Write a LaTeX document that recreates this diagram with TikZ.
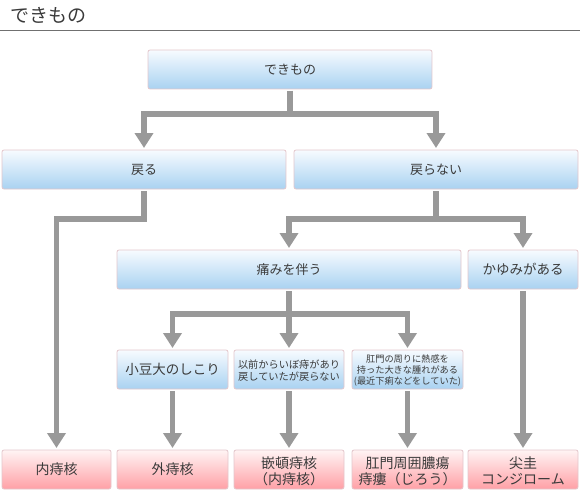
\documentclass[tikz,border=0pt]{standalone}
\usepackage{fontspec}
\setmainfont{Noto Sans CJK JP}
\usetikzlibrary{arrows.meta,calc}
\definecolor{bluetop}{HTML}{F7FBFF}
\definecolor{bluebot}{HTML}{A9D2F1}
\definecolor{pinktop}{HTML}{FFF4F4}
\definecolor{pinkbot}{HTML}{FFA0A6}
\definecolor{boxline}{HTML}{E3C6CB}
\definecolor{conncol}{HTML}{999999}
\definecolor{txt}{HTML}{3A3A3A}
\definecolor{rulecol}{HTML}{707070}
\begin{document}
\begin{tikzpicture}[x=1pt,y=-1pt,
 box/.style={draw=boxline, line width=0.8pt, rounded corners=2pt, inner sep=0pt, outer sep=0pt,
   text=txt, align=center, anchor=north west, minimum height=39pt, text height=1.15em},
 bluebox/.style={box, top color=bluetop, bottom color=bluebot},
 pinkbox/.style={box, top color=pinktop, bottom color=pinkbot},
 conn/.style={draw=conncol, line width=5.5pt, -{Triangle[width=18pt,length=15pt]}},
 fA/.style={font=\fontsize{13}{16}\selectfont},
 fB/.style={font=\fontsize{13.5}{16}\selectfont},
 fC/.style={font=\fontsize{14}{16}\selectfont},
]
\useasboundingbox (0,0) rectangle (580,500);
% title
\node[anchor=west, text=txt, inner sep=0pt, font=\fontsize{19}{22}\selectfont] (title) at (10,15.5) {できもの};
\draw[draw=rulecol, line width=1pt] (0,30.5) -- (580,30.5);

% level 1
\node[bluebox, fA, minimum width=284pt] (top) at (148,50) {できもの};
% level 2
\node[bluebox, fA, minimum width=284pt] (modoru) at (2,150) {戻る};
\node[bluebox, fA, minimum width=284pt] (modoranai) at (294,150) {戻らない};
% level 3
\node[bluebox, fA, minimum width=344pt] (itami) at (117,250) {痛みを伴う};
\node[bluebox, fB, minimum width=110pt] (kayumi) at (468,250) {かゆみがある};
% level 4
\node[bluebox, fB, minimum width=111pt] (azuki) at (117,350) {小豆大のしこり};
\node[bluebox, font=\fontsize{10.2}{12}\selectfont, minimum width=110pt, text height=23.7pt] (izen) at (234,350) {以前からいぼ痔があり\\戻していたが戻らない};
\node[bluebox, font=\fontsize{9.2}{11}\selectfont, minimum width=111pt, text height=32.5pt] (koumon) at (352,350) {肛門の周りに熱感を\\持った大きな腫れがある\\(最近下痢などをしていた)};
% bottom
\node[pinkbox, fC, minimum width=109pt] (b1) at (2,450) {内痔核};
\node[pinkbox, fC, minimum width=111pt] (b2) at (117,450) {外痔核};
\node[pinkbox, fC, minimum width=110pt, text height=31pt] (b3) at (234,450) {嵌頓痔核\\（内痔核）};
\node[pinkbox, fC, minimum width=111pt, text height=31pt] (b4) at (352,450) {肛門周囲膿瘍\\痔瘻（じろう）};
\node[pinkbox, fC, minimum width=110pt, text height=31pt] (b5) at (468,450) {尖圭\\コンジローム};

% connectors
\draw[conn] ([yshift=-2pt]top.south) -- ++(0,23) -| ([yshift=2pt]modoru.north);
\draw[conn] ([yshift=-2pt]top.south) -- ++(0,23) -| ([yshift=2pt]modoranai.north);
\draw[conn] ([yshift=-2pt]modoru.south) -- ++(0,28) -| ([yshift=2pt]b1.north);
\draw[conn] ([yshift=-2pt]modoranai.south) -- ++(0,28) -| ([yshift=2pt]itami.north);
\draw[conn] ([yshift=-2pt]modoranai.south) -- ++(0,28) -| ([yshift=2pt]kayumi.north);
\draw[conn] ([yshift=-2pt]itami.south) -- ++(0,23) -| ([yshift=2pt]azuki.north);
\draw[conn] ([yshift=-2pt]itami.south) -- ([yshift=2pt]izen.north);
\draw[conn] ([yshift=-2pt]itami.south) -- ++(0,23) -| ([yshift=2pt]koumon.north);
\draw[conn] ([yshift=-2pt]kayumi.south) -- ([yshift=2pt]b5.north);
\draw[conn] ([yshift=-2pt]azuki.south) -- ([yshift=2pt]b2.north);
\draw[conn] ([yshift=-2pt]izen.south) -- ([yshift=2pt]b3.north);
\draw[conn] ([yshift=-2pt]koumon.south) -- ([yshift=2pt]b4.north);
\end{tikzpicture}
\end{document}
